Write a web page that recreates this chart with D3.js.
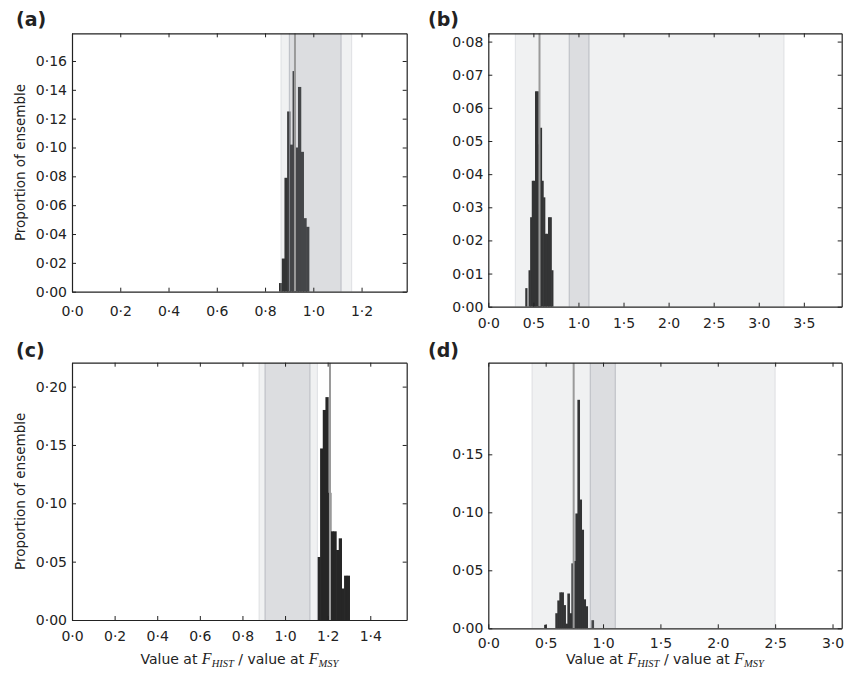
<!DOCTYPE html>
<html>
<head>
<meta charset="utf-8">
<script src="https://cdn.jsdelivr.net/npm/d3@7"></script>
<style>
  body { margin: 0; background: #fff; }
  svg { display: block; }
</style>
</head>
<body>
<svg id="fig" width="850" height="674"></svg>
<script>
// ---- Ensemble histograms: bin left edges and proportion of ensemble ----
const binLeftA = [0.858, 0.8692, 0.8804, 0.8916, 0.9028, 0.914, 0.9252, 0.9364, 0.9476, 0.9588, 0.970];
const propA    = [0.006, 0.023, 0.079, 0.125, 0.102, 0.153, 0.100, 0.142, 0.097, 0.051, 0.045];
const binWidthA = 0.0112;

const binLeftB = [0.410, 0.446, 0.464, 0.482, 0.500, 0.518, 0.536, 0.554, 0.572, 0.590, 0.608, 0.626, 0.644, 0.662, 0.680, 0.698];
const propB    = [0.0056, 0.011, 0.027, 0.038, 0.038, 0.065, 0.065, 0.049, 0.054, 0.038, 0.033, 0.022, 0.022, 0.027, 0.027, 0.011];
const binWidthB = 0.018;

const binLeftC = [1.152, 1.1645, 1.177, 1.1895, 1.202, 1.2145, 1.227, 1.2395, 1.252, 1.2645, 1.277, 1.2895];
const propC    = [0.054, 0.147, 0.180, 0.191, 0.109, 0.076, 0.076, 0.060, 0.070, 0.027, 0.038, 0.038];
const binWidthC = 0.0125;

const binLeftD = [0.4865, 0.584, 0.6015, 0.619, 0.6365, 0.654, 0.6715, 0.689, 0.7065, 0.724, 0.7415, 0.759, 0.7765, 0.794, 0.8115, 0.829, 0.8465, 0.899];
const propD    = [0.003, 0.013, 0.024, 0.031, 0.031, 0.020, 0.004, 0.030, 0.013, 0.056, 0.058, 0.099, 0.197, 0.111, 0.085, 0.025, 0.019, 0.007];
const binWidthD = 0.0175;

// Reference ranges (outer and inner) and the ensemble median
const outerRangeA = [0.866, 1.159], innerRangeA = [0.901, 1.115], medianA = 0.924;
const outerRangeB = [0.300, 3.280], innerRangeB = [0.898, 1.117], medianB = 0.568;
const outerRangeC = [0.878, 1.152], innerRangeC = [0.906, 1.117], medianC = 1.211;
const outerRangeD = [0.381, 2.500], innerRangeD = [0.889, 1.107], medianD = 0.744;

// Axis limits and tick values
const xLimA = [0, 1.387], yLimA = [0, 0.1792];
const xLimB = [0, 3.92],  yLimB = [0, 0.0825];
const xLimC = [0, 1.571], yLimC = [0, 0.2205];
const xLimD = [0, 3.08],  yLimD = [0, 0.229];

const xTicksA = [0, 0.2, 0.4, 0.6, 0.8, 1.0, 1.2];
const yTicksA = [0, 0.02, 0.04, 0.06, 0.08, 0.10, 0.12, 0.14, 0.16];
const xTicksB = [0, 0.5, 1.0, 1.5, 2.0, 2.5, 3.0, 3.5];
const yTicksB = [0, 0.01, 0.02, 0.03, 0.04, 0.05, 0.06, 0.07, 0.08];
const xTicksC = [0, 0.2, 0.4, 0.6, 0.8, 1.0, 1.2, 1.4];
const yTicksC = [0, 0.05, 0.10, 0.15, 0.20];
const xTicksD = [0, 0.5, 1.0, 1.5, 2.0, 2.5, 3.0];
const yTicksD = [0, 0.05, 0.10, 0.15];

const panelLetters = ["(a)", "(b)", "(c)", "(d)"];
const yTitle = "Proportion of ensemble";

// ---- layout ----
const svg = d3.select("#fig");
const FONT = "'DejaVu Sans', sans-serif";
const INK = "#222";

const panels = [
  { letter: panelLetters[0], bins: binLeftA.map((x0, i) => ({ x0, v: propA[i] })), w: binWidthA,
    outer: outerRangeA, inner: innerRangeA, median: medianA, xLim: xLimA, yLim: yLimA,
    xTicks: xTicksA, yTicks: yTicksA, box: { l: 72, r: 406.7, t: 33.3, b: 291.7 },
    pad: 14, yTitle: true, xTitle: false, lab: [16, 26] },
  { letter: panelLetters[1], bins: binLeftB.map((x0, i) => ({ x0, v: propB[i] })), w: binWidthB,
    outer: outerRangeB, inner: innerRangeB, median: medianB, xLim: xLimB, yLim: yLimB,
    xTicks: xTicksB, yTicks: yTicksB, box: { l: 488.3, r: 841.7, t: 33.3, b: 306.7 },
    pad: 11, yTitle: false, xTitle: false, lab: [428, 26] },
  { letter: panelLetters[2], bins: binLeftC.map((x0, i) => ({ x0, v: propC[i] })), w: binWidthC,
    outer: outerRangeC, inner: innerRangeC, median: medianC, xLim: xLimC, yLim: yLimC,
    xTicks: xTicksC, yTicks: yTicksC, box: { l: 72, r: 406.7, t: 362.7, b: 620 },
    pad: 11, yTitle: true, xTitle: true, lab: [16, 357] },
  { letter: panelLetters[3], bins: binLeftD.map((x0, i) => ({ x0, v: propD[i] })), w: binWidthD,
    outer: outerRangeD, inner: innerRangeD, median: medianD, xLim: xLimD, yLim: yLimD,
    xTicks: xTicksD, yTicks: yTicksD, box: { l: 488.3, r: 841.7, t: 362.7, b: 628.3 },
    pad: 10, yTitle: false, xTitle: true, lab: [428, 357] }
];

// decimal point rendered as a raised dot
const dotFmt = f => v => d3.format(f)(v).replace(".", "\u00B7");

function styleAxis(g) {
  g.attr("font-family", FONT).attr("font-size", 14);
  g.select(".domain").attr("stroke", INK).attr("stroke-width", 1.2);
  g.selectAll(".tick line").attr("stroke", INK).attr("stroke-width", 1);
  g.selectAll(".tick text").attr("fill", INK);
}

panels.forEach((p, idx) => {
  const { l, r, t, b } = p.box;
  const x = d3.scaleLinear().domain(p.xLim).range([l, r]);
  const y = d3.scaleLinear().domain(p.yLim).range([b, t]);
  const g = svg.append("g");

  const clipId = "clip" + idx;
  g.append("clipPath").attr("id", clipId)
    .append("rect").attr("x", l).attr("y", t).attr("width", r - l).attr("height", b - t);
  const plot = g.append("g").attr("clip-path", `url(#${clipId})`);

  // histogram bars (a small overlap keeps neighbouring bins seamless)
  plot.selectAll("rect.bar").data(p.bins).join("rect")
    .attr("class", "bar")
    .attr("x", d => x(d.x0))
    .attr("width", d => x(d.x0 + p.w) - x(d.x0) + 0.6)
    .attr("y", d => y(d.v))
    .attr("height", d => y(0) - y(d.v))
    .attr("fill", "#262626");

  // translucent reference ranges laid over the bars
  plot.append("rect")
    .attr("x", x(p.outer[0])).attr("width", x(p.outer[1]) - x(p.outer[0]))
    .attr("y", t).attr("height", b - t)
    .attr("fill", "#8c909c").attr("fill-opacity", 0.13);
  plot.append("rect")
    .attr("x", x(p.inner[0])).attr("width", x(p.inner[1]) - x(p.inner[0]))
    .attr("y", t).attr("height", b - t)
    .attr("fill", "#8c909c").attr("fill-opacity", 0.2);
  [p.inner[0], p.inner[1]].forEach(v => {
    plot.append("line")
      .attr("x1", x(v)).attr("x2", x(v)).attr("y1", t).attr("y2", b)
      .attr("stroke", "#a9acb4").attr("stroke-opacity", 0.6).attr("stroke-width", 1.2);
  });
  [p.outer[0], p.outer[1]].forEach(v => {
    plot.append("line")
      .attr("x1", x(v)).attr("x2", x(v)).attr("y1", t).attr("y2", b)
      .attr("stroke", "#c9ccd2").attr("stroke-opacity", 0.5).attr("stroke-width", 1);
  });

  // ensemble median
  plot.append("line")
    .attr("x1", x(p.median)).attr("x2", x(p.median)).attr("y1", t).attr("y2", b)
    .attr("stroke", "#9a9a9a").attr("stroke-width", 2);

  // axes: ticks point inward on all four sides
  g.append("g").attr("transform", `translate(0,${b})`)
    .call(d3.axisBottom(x).tickValues(p.xTicks).tickFormat(dotFmt(".1f"))
      .tickSizeInner(-4).tickSizeOuter(0).tickPadding(p.pad))
    .call(styleAxis);
  g.append("g").attr("transform", `translate(0,${t})`)
    .call(d3.axisTop(x).tickValues(p.xTicks).tickFormat("")
      .tickSizeInner(-4).tickSizeOuter(0))
    .call(styleAxis);
  g.append("g").attr("transform", `translate(${l},0)`)
    .call(d3.axisLeft(y).tickValues(p.yTicks).tickFormat(dotFmt(".2f"))
      .tickSizeInner(-4).tickSizeOuter(0).tickPadding(5))
    .call(styleAxis);
  g.append("g").attr("transform", `translate(${r},0)`)
    .call(d3.axisRight(y).tickValues(p.yTicks).tickFormat("")
      .tickSizeInner(-4).tickSizeOuter(0))
    .call(styleAxis);

  // panel letter
  svg.append("text")
    .attr("x", p.lab[0]).attr("y", p.lab[1])
    .attr("font-family", FONT).attr("font-weight", "bold").attr("font-size", 19)
    .attr("fill", INK).text(p.letter);

  if (p.yTitle) {
    svg.append("text")
      .attr("transform", `translate(24.5,${(t + b) / 2}) rotate(-90)`)
      .attr("text-anchor", "middle")
      .attr("font-family", FONT).attr("font-size", 13.5).attr("fill", INK)
      .text(yTitle);
  }

  if (p.xTitle) {
    const tx = svg.append("text")
      .attr("x", (l + r) / 2).attr("y", 664)
      .attr("text-anchor", "middle")
      .attr("font-family", FONT).attr("font-size", 14).attr("fill", INK);
    const mathF = "'Liberation Serif', 'DejaVu Serif', serif";
    tx.append("tspan").text("Value at ");
    tx.append("tspan").attr("font-family", mathF).attr("font-style", "italic").attr("font-size", 16).text("F");
    tx.append("tspan").attr("font-family", mathF).attr("font-style", "italic").attr("font-size", 10.5).attr("dy", 3).text("HIST");
    tx.append("tspan").attr("dy", -3).text(" / value at ");
    tx.append("tspan").attr("font-family", mathF).attr("font-style", "italic").attr("font-size", 16).text("F");
    tx.append("tspan").attr("font-family", mathF).attr("font-style", "italic").attr("font-size", 10.5).attr("dy", 3).text("MSY");
  }
});
</script>
</body>
</html>
